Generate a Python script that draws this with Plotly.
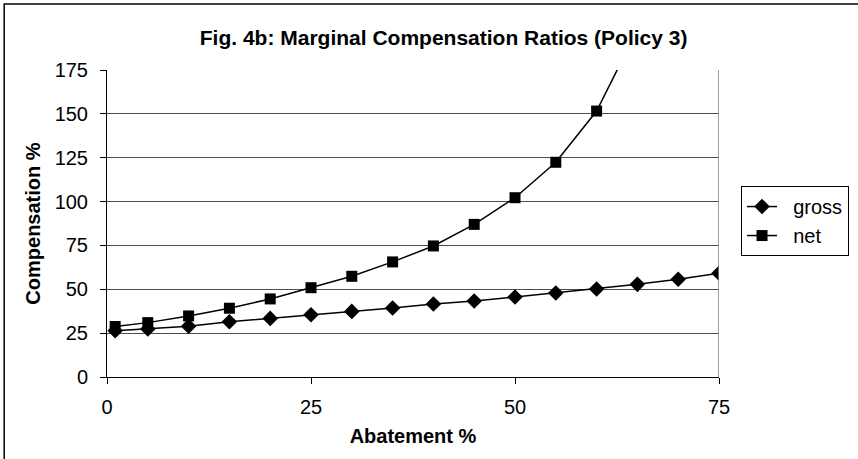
import plotly.graph_objects as go

abatement = [1, 5, 10, 15, 20, 25, 30, 35, 40, 45, 50, 55, 60, 65, 70, 75]
gross = [26.4, 27.4, 28.9, 31.5, 33.4, 35.5, 37.4, 39.3, 41.6, 43.3, 45.6, 47.9, 50.2, 52.8, 55.7, 59.1]
net_x = [1, 5, 10, 15, 20, 25, 30, 35, 40, 45, 50, 55, 60, 65]
net = [28.8, 31.0, 34.8, 39.2, 44.5, 50.9, 57.4, 65.6, 74.7, 87.0, 102.2, 122.4, 151.6, 198.0]
x_ticks = [0, 25, 50, 75]
y_ticks = [0, 25, 50, 75, 100, 125, 150, 175]
series_names = ["gross", "net"]

FONT = "Liberation Sans, Arial, sans-serif"
PAD = "\u00a0\u00a0"

fig = go.Figure()
fig.add_trace(go.Scatter(
    x=abatement, y=gross, name=PAD + series_names[0], mode="lines+markers",
    line=dict(color="black", width=1.5),
    marker=dict(symbol="diamond", size=12, color="black"),
))
fig.add_trace(go.Scatter(
    x=net_x, y=net, name=PAD + series_names[1], mode="lines+markers",
    line=dict(color="black", width=1.5),
    marker=dict(symbol="square", size=11, color="black"),
))

fig.update_layout(
    width=858, height=459,
    margin=dict(l=107, r=139, t=70, b=82, autoexpand=False),
    paper_bgcolor="white", plot_bgcolor="white",
    font=dict(family=FONT, size=20, color="black"),
    title=dict(text="<b>Fig. 4b: Marginal Compensation Ratios (Policy 3)</b>",
               x=0.517, xanchor="center", y=0.919, yanchor="middle",
               font=dict(size=21, family=FONT)),
    showlegend=True,
    legend=dict(x=1.036, xanchor="left", y=0.622, yanchor="top",
                bgcolor="white", bordercolor="black", borderwidth=1,
                font=dict(size=20, family=FONT), tracegroupgap=0),
    xaxis=dict(range=[0, 75], tickvals=x_ticks, ticks="outside", ticklen=6,
               tickcolor="black", showline=True, linecolor="black", linewidth=1,
               showgrid=False, zeroline=False, ticklabelstandoff=6,
               title=dict(text="<b>Abatement %</b>", font=dict(size=20), standoff=11),
               tickfont=dict(size=20)),
    yaxis=dict(range=[0, 175], tickvals=y_ticks, ticks="outside", ticklen=6,
               tickcolor="black", showline=True, linecolor="black", linewidth=1,
               showgrid=True, gridcolor="#4d4d4d", gridwidth=1, zeroline=False,
               ticklabelstandoff=8,
               title=dict(text="<b>Compensation %</b>", font=dict(size=20), standoff=8),
               tickfont=dict(size=20)),
    shapes=[
        dict(type="line", xref="x", yref="paper", x0=75, x1=75, y0=0, y1=1,
             line=dict(color="#808080", width=1.5)),
        dict(type="rect", xref="paper", yref="paper",
             x0=-0.168, x1=1.24, y0=-0.28, y1=1.215,
             line=dict(color="black", width=1.5), fillcolor="rgba(0,0,0,0)"),
    ],
)

fig.write_html("out.html", config={"displayModeBar": False})

with open("out.html", "r", encoding="utf-8") as f:
    html = f.read()
html = html.replace("<head>", "<head><style>html,body{margin:0;padding:0;overflow:hidden;}</style>", 1)
with open("out.html", "w", encoding="utf-8") as f:
    f.write(html)
